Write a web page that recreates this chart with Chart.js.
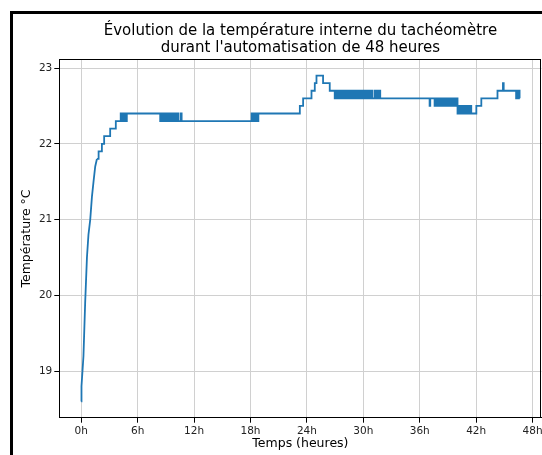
<!DOCTYPE html>
<html lang="fr">
<head>
<meta charset="utf-8">
<script src="https://cdn.jsdelivr.net/npm/chart.js@4.4.1/dist/chart.umd.min.js"></script>
<style>
  html, body { margin: 0; padding: 0; background: #fff; overflow: hidden; }
  body { width: 542px; height: 455px; position: relative; }
  #cadre { position: absolute; left: 10px; top: 11px; width: 600px; height: 500px;
           border-left: 3px solid #000; border-top: 3px solid #000; }
  #tempChart { position: absolute; left: 0; top: 0; }
</style>
</head>
<body>
<div id="cadre"></div>
<canvas id="tempChart" width="542" height="455"></canvas>
<script>
// Montée en température au démarrage (heures, °C)
const riseTimes = [0, 0.03, 0.24, 0.42, 0.61, 0.77, 0.96, 1.14, 1.31, 1.49, 1.67];
const riseTemps = [18.6, 18.8, 19.2, 19.9, 20.5, 20.8, 21.0, 21.3, 21.5, 21.7, 21.8];

// Suite de la série, valeurs au 0.1 °C (chaque valeur tient jusqu'au point suivant)
const stepTimes = [
  1.67, 1.85, 2.2, 2.44, 3.08, 3.68,
  4.2, 4.3, 4.45, 4.55, 4.7, 4.78, 4.85,
  8.4, 8.52, 8.64, 8.76, 8.88, 9.0, 9.12, 9.24, 9.36, 9.48, 9.6, 9.72, 9.84, 9.96, 10.1, 10.25, 10.35, 10.6, 10.68,
  18.12, 18.24, 18.36, 18.48, 18.6, 18.72, 18.84,
  23.25, 23.6, 24.49, 24.84, 25.02, 25.72, 26.43,
  26.96, 27.08, 27.2, 27.33, 27.45, 27.58, 27.7, 27.83, 27.95, 28.08, 28.2, 28.33, 28.45, 28.58, 28.7, 28.83,
  28.95, 29.08, 29.2, 29.33, 29.45, 29.58, 29.7, 29.83, 29.95, 30.08, 30.2, 30.33, 30.45, 30.58, 30.7, 30.83,
  30.95, 31.2, 31.33, 31.45, 31.58, 31.7, 31.8, 31.92,
  37.05, 37.12,
  37.58, 37.7, 37.83, 37.95, 38.08, 38.2, 38.33, 38.45, 38.58, 38.7, 38.83, 38.95, 39.08, 39.2, 39.33, 39.45,
  39.58, 39.7, 39.83, 39.95,
  40.02, 40.15, 40.27, 40.4, 40.52, 40.65, 40.77, 40.9, 41.02, 41.15, 41.27, 41.38, 41.48,
  42.02, 42.55, 44.27, 44.85, 44.93, 46.25, 46.35, 46.45, 46.55, 46.62
];
const stepTemps = [
  21.8, 21.9, 22.0, 22.1, 22.2, 22.3,
  22.4, 22.3, 22.4, 22.3, 22.4, 22.3, 22.4,
  22.3, 22.4, 22.3, 22.4, 22.3, 22.4, 22.3, 22.4, 22.3, 22.4, 22.3, 22.4, 22.3, 22.4, 22.3, 22.4, 22.3, 22.4, 22.3,
  22.4, 22.3, 22.4, 22.3, 22.4, 22.3, 22.4,
  22.5, 22.6, 22.7, 22.8, 22.9, 22.8, 22.7,
  22.6, 22.7, 22.6, 22.7, 22.6, 22.7, 22.6, 22.7, 22.6, 22.7, 22.6, 22.7, 22.6, 22.7, 22.6, 22.7,
  22.6, 22.7, 22.6, 22.7, 22.6, 22.7, 22.6, 22.7, 22.6, 22.7, 22.6, 22.7, 22.6, 22.7, 22.6, 22.7,
  22.6, 22.7, 22.6, 22.7, 22.6, 22.7, 22.6, 22.6,
  22.5, 22.6,
  22.5, 22.6, 22.5, 22.6, 22.5, 22.6, 22.5, 22.6, 22.5, 22.6, 22.5, 22.6, 22.5, 22.6, 22.5, 22.6,
  22.5, 22.6, 22.5, 22.6,
  22.4, 22.5, 22.4, 22.5, 22.4, 22.5, 22.4, 22.5, 22.4, 22.5, 22.4, 22.5, 22.4,
  22.5, 22.6, 22.7, 22.8, 22.7, 22.6, 22.7, 22.6, 22.7, 22.6
];

const xTicks = [0, 6, 12, 18, 24, 30, 36, 42, 48];
const yTicks = [19, 20, 21, 22, 23];

const bleu = '#1f77b4';
const police = 'DejaVu Sans';

// Cadre noir complet autour de la zone de tracé
const axesPlugin = {
    id: 'axesCadre',
    afterDraw(chart) {
        const { ctx, chartArea: a } = chart;
        ctx.save();
        ctx.strokeStyle = '#000';
        ctx.lineWidth = 1;
        ctx.strokeRect(Math.round(a.left) + 0.5, Math.round(a.top) + 0.5,
                       Math.round(a.right - a.left) - 1, Math.round(a.bottom - a.top));
        ctx.restore();
    }
};

const tempCtx = document.getElementById('tempChart').getContext('2d');
const tempChart = new Chart(tempCtx, {
    type: 'line',
    data: {
        datasets: [{
            data: riseTimes.map((t, i) => ({ x: t, y: riseTemps[i] })),
            borderColor: bleu,
            borderWidth: 1.8,
            pointRadius: 0,
            tension: 0
        }, {
            data: stepTimes.map((t, i) => ({ x: t, y: stepTemps[i] })),
            borderColor: bleu,
            borderWidth: 1.8,
            pointRadius: 0,
            stepped: 'before'
        }]
    },
    options: {
        responsive: false,
        animation: false,
        devicePixelRatio: 1,
        layout: { padding: { left: 0, right: 0.5, top: 0, bottom: 0 } },
        plugins: {
            legend: { display: false },
            tooltip: { enabled: false },
            title: {
                display: true,
                fullSize: false,
                text: ['Évolution de la température interne du tachéomètre',
                       "durant l'automatisation de 48 heures"],
                font: { family: police, size: 15, weight: 'normal', lineHeight: 1.1 },
                color: '#000',
                padding: { top: 23, bottom: 3.3 }
            }
        },
        scales: {
            x: {
                type: 'linear',
                min: -2.33,
                max: 48.95,
                afterBuildTicks: s => { s.ticks = xTicks.map(v => ({ value: v })); },
                afterFit: s => { s.height = 37.3; s.paddingLeft = 0; s.paddingRight = 0; },
                ticks: {
                    callback: v => v + 'h',
                    font: { family: police, size: 10.5 },
                    color: '#222',
                    padding: 2,
                    maxRotation: 0,
                    autoSkip: false
                },
                grid: { color: '#d0d0d0', tickColor: '#000', tickLength: 5 },
                border: { color: '#000' },
                title: {
                    display: true,
                    text: 'Temps (heures)',
                    font: { family: police, size: 12.5 },
                    color: '#000',
                    padding: { top: 0, bottom: 3.5 }
                }
            },
            y: {
                min: 18.385,
                max: 23.115,
                afterBuildTicks: s => { s.ticks = yTicks.map(v => ({ value: v })); },
                afterFit: s => { s.width = 59.3; s.paddingTop = 0; s.paddingBottom = 0; },
                ticks: {
                    font: { family: police, size: 10.5 },
                    color: '#222',
                    padding: 2
                },
                grid: { color: '#d0d0d0', tickColor: '#000', tickLength: 5 },
                border: { color: '#000' },
                title: {
                    display: true,
                    text: 'Température °C',
                    font: { family: police, size: 12.5 },
                    color: '#000',
                    padding: { top: 19.5, bottom: 0 }
                }
            }
        }
    },
    plugins: [axesPlugin]
});
</script>
</body>
</html>
